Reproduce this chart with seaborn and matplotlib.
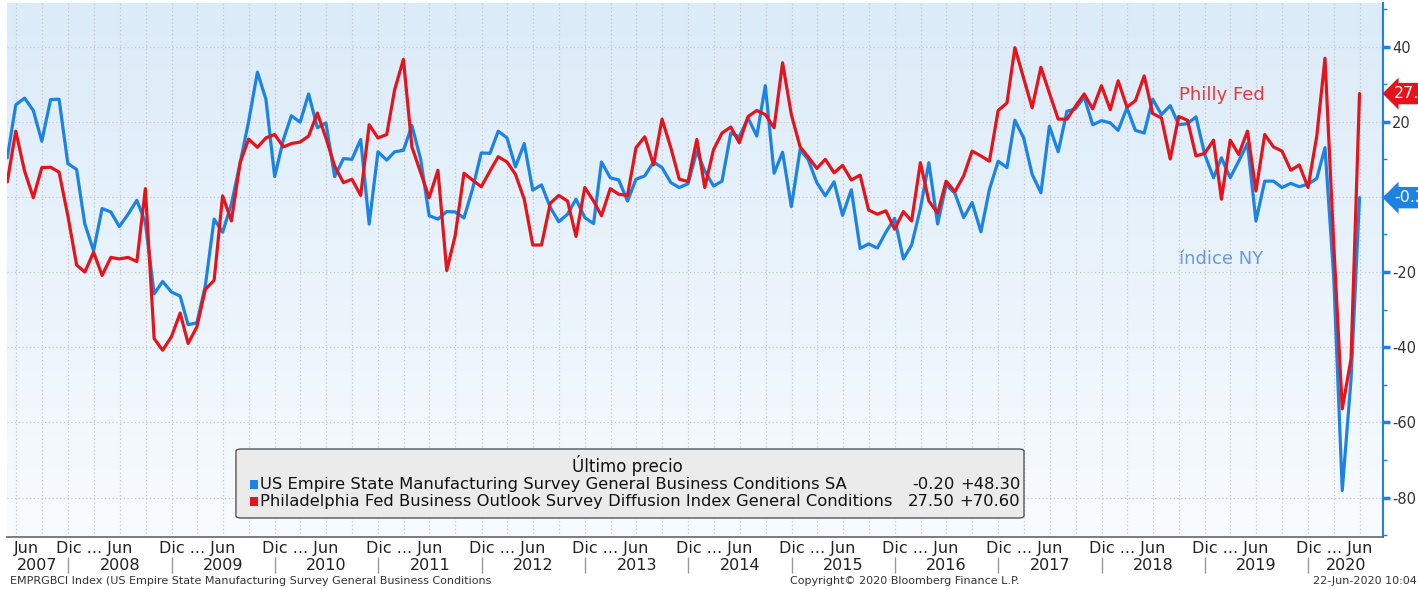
import numpy as np
import pandas as pd
import seaborn as sns
import matplotlib.pyplot as plt
import matplotlib.dates as mdates
from matplotlib.colors import LinearSegmentedColormap
from matplotlib.patches import FancyBboxPatch, Rectangle
from matplotlib.ticker import MultipleLocator, NullFormatter, FuncFormatter

sns.set_theme(style='white')
plt.rcParams['font.family'] = ['DejaVu Sans']

# monthly readings, May 2007 - Jun 2020
months = pd.date_range('2007-05-31', '2020-06-30', freq='ME')

empire = [10.4, 24.5, 26.3, 23.0, 14.8, 25.9, 26.0, 8.9,                                   # 2007
          7.3, -7.2, -14.3, -3.1, -4.0, -7.9, -4.6, -0.9, -6.8, -25.8, -22.5, -25.3,        # 2008
          -26.4, -34.0, -33.5, -23.6, -5.9, -9.4, -1.9, 9.1, 20.1, 33.2, 26.0, 5.4,         # 2009
          15.3, 21.6, 19.9, 27.4, 18.4, 19.7, 5.4, 10.2, 10.0, 15.3, -7.2, 12.0,            # 2010
          9.8, 12.0, 12.4, 19.0, 10.0, -5.0, -5.9, -3.9, -4.0, -5.6, 2.0, 11.7,             # 2011
          11.6, 17.5, 15.7, 8.0, 14.2, 1.8, 3.2, -2.8, -6.6, -4.6, -0.6, -5.5,              # 2012
          -7.1, 9.3, 5.1, 4.5, -1.1, 4.7, 5.6, 9.3, 7.8, 3.8, 2.5, 3.5,                     # 2013
          12.2, 6.9, 2.9, 4.2, 17.0, 16.0, 21.0, 16.2, 29.6, 6.3, 11.9, -2.6,               # 2014
          12.6, 10.0, 3.8, 0.3, 4.0, -4.9, 1.9, -13.7, -12.5, -13.6, -9.4, -5.7,            # 2015
          -16.5, -12.8, -3.1, 9.1, -7.2, 3.2, 1.0, -5.5, -1.5, -9.3, 2.0, 9.5,              # 2016
          7.8, 20.4, 15.7, 6.0, 1.1, 18.8, 12.0, 22.8, 23.4, 26.6, 19.2, 20.3,              # 2017
          19.7, 17.7, 23.7, 17.7, 17.0, 26.0, 21.9, 24.3, 19.2, 19.5, 21.3, 11.3,           # 2018
          5.1, 10.4, 5.1, 9.5, 14.2, -6.4, 4.2, 4.2, 2.5, 3.6, 2.7, 3.4,                    # 2019
          4.9, 13.1, -21.5, -78.1, -48.5, -0.2]                                             # 2020

philly = [4.0, 17.5, 6.9, -0.2, 7.8, 7.9, 6.6, -5.0,
          -18.1, -20.0, -14.7, -20.9, -16.1, -16.5, -16.1, -17.2, 2.2, -37.7, -40.8, -37.2,
          -30.9, -39.0, -34.6, -24.6, -22.2, 0.3, -6.4, 9.1, 15.4, 13.2, 15.7, 16.6,
          13.3, 14.2, 14.6, 16.2, 22.3, 15.7, 8.2, 3.8, 4.7, 0.4, 19.2, 15.7,
          16.6, 28.5, 36.6, 13.3, 6.4, -0.2, 7.1, -19.6, -10.3, 6.3, 4.5, 2.7,
          6.9, 10.7, 9.3, 6.0, -0.6, -12.8, -12.8, -1.7, 0.4, -1.1, -10.5, 2.5,
          -1.1, -5.0, 2.2, 0.7, 0.4, 13.1, 16.0, 8.5, 20.7, 13.1, 4.7, 4.1,
          15.3, 2.5, 12.6, 17.0, 18.6, 14.4, 21.4, 23.0, 21.9, 18.4, 35.7, 21.9,
          13.3, 10.7, 7.6, 10.0, 6.4, 8.4, 4.5, 5.8, -3.5, -4.6, -3.7, -8.6,
          -3.9, -6.4, 9.1, -1.1, -4.3, 4.2, 1.4, 5.6, 12.2, 10.9, 9.5, 23.0,
          25.0, 39.7, 31.6, 23.7, 34.5, 27.6, 20.7, 20.7, 24.1, 27.4, 23.4, 29.6,
          23.2, 30.9, 23.9, 25.6, 32.2, 22.2, 21.0, 10.1, 21.4, 20.4, 10.9, 11.6,
          15.1, -0.6, 15.1, 11.3, 17.5, 1.6, 16.6, 13.3, 12.2, 7.1, 8.5, 2.5,
          16.2, 36.9, -12.7, -56.4, -43.1, 27.5]

series_names = ['US Empire State Manufacturing Survey General Business Conditions SA',
                'Philadelphia Fed Business Outlook Survey Diffusion Index General Conditions']
short_names = ['índice NY', 'Philly Fed']
years = list(range(2007, 2021))
footer_left = 'EMPRGBCI Index (US Empire State Manufacturing Survey General Business Conditions'
footer_mid = 'Copyright© 2020 Bloomberg Finance L.P.'
footer_right = '22-Jun-2020 10:04'

blue = '#1c83e2'
red = '#e5141c'

df = pd.DataFrame({'fecha': np.concatenate([months, months]),
                   'valor': empire + philly,
                   'serie': [series_names[0]] * len(months) + [series_names[1]] * len(months)})

fig = plt.figure(figsize=(14.18, 5.89), dpi=100)
ax = fig.add_axes([7 / 1418, 1 - 537 / 589, 1376 / 1418, 534 / 589])

# bloomberg-ish background gradient
cmap = LinearSegmentedColormap.from_list('bg', ['#f8fbfe', '#dbebf8'])
ax.imshow(np.linspace(0, 1, 256).reshape(-1, 1), cmap=cmap, aspect='auto',
          extent=[0, 1, 0, 1], transform=ax.transAxes, origin='lower', zorder=-1)

sns.lineplot(data=df, x='fecha', y='valor', hue='serie', palette=[blue, red],
             linewidth=2.3, legend=False, ax=ax)

xmin, xmax = pd.Timestamp('2007-05-30'), pd.Timestamp('2020-09-21')
ax.set_xlim(xmin, xmax)
ax.set_ylim(-90.5, 51.6)
ax.set_xlabel('')
ax.set_ylabel('')

# axes / ticks
ax.yaxis.tick_right()
ax.yaxis.set_major_locator(MultipleLocator(20))
ax.yaxis.set_minor_locator(MultipleLocator(10))
ax.yaxis.set_major_formatter(FuncFormatter(lambda v, p: '' if abs(v) < 1e-9 else f'{v:.0f}'))
ax.tick_params(axis='y', which='major', right=True, length=5, width=2.5, color=blue,
               labelsize=10.5, labelcolor='#333333', pad=1.5)
ax.tick_params(axis='y', which='minor', right=True, length=3, width=1, color=blue)
ax.xaxis.set_major_locator(mdates.MonthLocator(bymonth=[1, 4, 7, 10]))
ax.xaxis.set_minor_locator(mdates.MonthLocator(bymonth=[4, 10]))
ax.xaxis.set_major_formatter(NullFormatter())
ax.tick_params(axis='x', which='major', bottom=False, length=0)
ax.tick_params(axis='x', which='minor', bottom=True, length=3, width=1, color='#888888')
ax.grid(True, which='major', axis='both', linestyle=(0, (1, 2)), color='#c4c8cc', linewidth=0.9)

for s in ['left', 'top']:
    ax.spines[s].set_visible(False)
ax.spines['right'].set_color(blue)
ax.spines['right'].set_linewidth(1.5)
ax.spines['bottom'].set_color('#666666')
ax.spines['bottom'].set_linewidth(1.2)

# month / year labels under the axis
xt = ax.get_xaxis_transform()
ax.text(pd.Timestamp('2007-08-08'), -0.021, 'Jun', transform=xt, ha='center', va='center', fontsize=11.5, color='#222222')
for yr in years[1:]:
    ax.text(pd.Timestamp(f'{yr}-04-01'), -0.021, 'Dic ... Jun', transform=xt, ha='center', va='center',
            fontsize=11.5, color='#222222')
for yr in years:
    lo = max(pd.Timestamp(f'{yr}-01-01'), xmin)
    hi = min(pd.Timestamp(f'{yr + 1}-01-01'), xmax)
    ax.text(lo + (hi - lo) / 2, -0.053, str(yr), transform=xt, ha='center', va='center',
            fontsize=11.5, color='#222222')
ax.vlines([pd.Timestamp(f'{yr}-01-01') for yr in years[1:]], -0.068, -0.037, transform=xt,
          colors='#999999', linewidth=1, clip_on=False)

# series name annotations
ax.text(pd.Timestamp('2018-09-30'), 27.0, short_names[1], color='#e0393e', fontsize=13, va='center')
ax.text(pd.Timestamp('2018-09-30'), -16.5, short_names[0], color='#6b9bd8', fontsize=13, va='center')

# last value tags on the right axis
for val, col in [(philly[-1], red), (empire[-1], blue)]:
    ax.annotate(f'{val:.1f}', xy=(1.0, val), xycoords=ax.get_yaxis_transform(),
                xytext=(8, 0), textcoords='offset points', ha='left', va='center',
                color='white', fontsize=11.5,
                bbox=dict(boxstyle='larrow,pad=0.2', fc=col, ec='none'),
                annotation_clip=False, zorder=10)

# legend box (Último precio)
leg_fs = 11.8
ax.add_patch(FancyBboxPatch((0.1664, 0.0356), 0.5727, 0.1292, boxstyle='round,pad=0,rounding_size=0.004',
                            transform=ax.transAxes, fc='#ebebeb', ec='#555555', lw=1, zorder=5))
ax.text(0.4506, 0.133, 'Último precio', transform=ax.transAxes, ha='center', va='center',
        fontsize=12, color='#111111', zorder=6)
rows_y = [0.0975, 0.066]
for i, (name, vals, col) in enumerate([(series_names[0], empire, blue), (series_names[1], philly, red)]):
    ax.add_patch(Rectangle((0.1766, rows_y[i] - 0.0085), 0.0055, 0.017, transform=ax.transAxes,
                           fc=col, ec='none', zorder=6))
    ax.text(0.1840, rows_y[i], name, transform=ax.transAxes, ha='left', va='center',
            fontsize=leg_fs, color='#111111', zorder=6)
    ax.text(0.6885, rows_y[i], f'{vals[-1]:.2f}', transform=ax.transAxes, ha='right', va='center',
            fontsize=leg_fs, color='#111111', zorder=6)
    ax.text(0.7363, rows_y[i], f'{vals[-1] - vals[-2]:+.2f}', transform=ax.transAxes, ha='right',
            va='center', fontsize=leg_fs, color='#111111', zorder=6)

# footer
fig.text(10 / 1418, 1 - 581 / 589, footer_left, fontsize=8, va='center', color='#333333')
fig.text(790 / 1418, 1 - 581 / 589, footer_mid, fontsize=8, va='center', color='#333333')
fig.text(1417 / 1418, 1 - 581 / 589, footer_right, fontsize=8, va='center', ha='right', color='#333333')

fig.savefig('out.png', dpi=100)
